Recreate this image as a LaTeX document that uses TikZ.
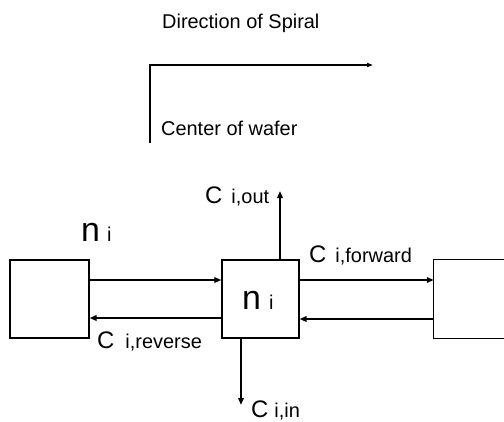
\documentclass[tikz,border=0pt]{standalone}
\usepackage{fontspec}
\setmainfont{Liberation Sans}
\usetikzlibrary{arrows.meta,calc}
\tikzset{
  box/.style={draw, line width=1.2bp, rectangle, inner sep=0pt},
  flow/.style={line width=2bp, -{Triangle[length=7bp,width=5.5bp]}},
  txt/.style={inner sep=0pt, anchor=base west},
}
\newcommand{\bigC}{\fontsize{24}{24}\selectfont C}
\newcommand{\subtxt}[1]{\fontsize{20}{20}\selectfont #1}
\begin{document}
\begin{tikzpicture}[x=1bp,y=-1bp]
\useasboundingbox (0,0) rectangle (504,421);
% top legend
\node[txt] (dir) at (162,28) {\fontsize{20}{20}\selectfont Direction of Spiral};
\coordinate (sA) at (150,143);
\coordinate (sB) at (150,65);
\coordinate (sC) at (373,65);
\draw[line width=2bp, -{Triangle[length=6bp,width=4bp]}] (sA) -- (sB) -- (sC);
\node[txt] (cow) at (161,135) {\fontsize{20}{20}\selectfont Center of wafer};
% boxes
\node[box, minimum width=79bp, minimum height=78bp] (L) at (49.5,299) {};
\node[box, minimum width=77bp, minimum height=78bp] (M) at (260.5,299) {};
\node[inner sep=0pt, minimum width=140bp, minimum height=78bp] (R) at (504,299) {};
\draw[line width=1.2bp] (R.north) -- (R.north west) -- (R.south west) -- (R.south);
% arrows
\draw[flow] ($(L.east)+(0,-19)$) -- ($(M.west)+(0,-19)$);
\draw[flow] ($(M.west)+(0,19)$) -- ($(L.east)+(0,19)$);
\draw[flow] ($(M.east)+(0,-19)$) -- ($(R.west)+(0,-19)$);
\draw[flow] ($(R.west)+(0,20)$) -- ($(M.east)+(0,20)$);
\coordinate (outEnd) at (280,191);
\coordinate (inEnd) at (241,405);
\draw[flow] (M.north -| outEnd) -- (outEnd);
\draw[flow] (M.south -| inEnd) -- (inEnd);
% labels
\node[txt] (nL) at (81,241) {\fontsize{34}{34}\selectfont n\hspace{7bp}\subtxt{i}};
\node[txt] (nM) at (242,309) {\fontsize{34}{34}\selectfont n\hspace{8bp}\subtxt{i}};
\node[txt] (cout) at (205,203) {\bigC\hspace{9bp}\subtxt{i,out}};
\node[txt] (cfw) at (309,262) {\bigC\hspace{9bp}\subtxt{i,forward}};
\node[txt] (crev) at (97,348) {\bigC\hspace{11bp}\subtxt{i,reverse}};
\node[txt] (cin) at (251,417) {\bigC\hspace{6bp}\subtxt{i,in}};
\end{tikzpicture}
\end{document}
